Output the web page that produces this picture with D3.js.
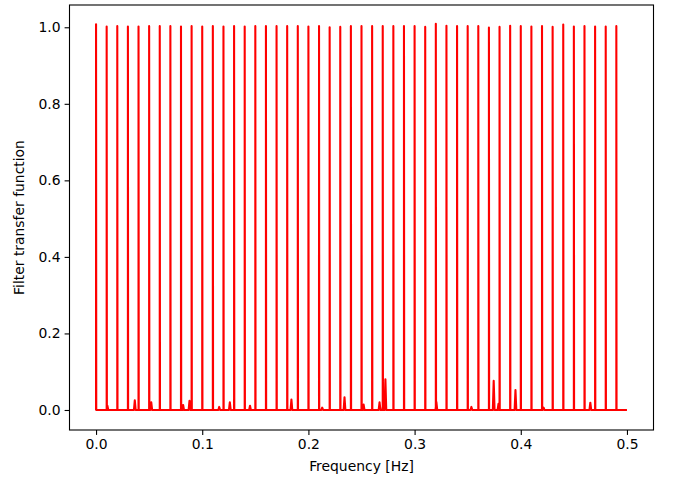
<!DOCTYPE html>
<html>
<head>
<meta charset="utf-8">
<script src="https://cdn.jsdelivr.net/npm/d3@7"></script>
<style>
  body { margin: 0; background: #fff; }
  text { font-family: "DejaVu Sans", sans-serif; fill: #000; }
</style>
</head>
<body>
<svg id="chart" width="673" height="479"></svg>
<script>
// comb filter peaks, one every 0.01 Hz
const spikeFreqs = [
  0.00, 0.01, 0.02, 0.03, 0.04, 0.05, 0.06, 0.07, 0.08, 0.09,
  0.10, 0.11, 0.12, 0.13, 0.14, 0.15, 0.16, 0.17, 0.18, 0.19,
  0.20, 0.21, 0.22, 0.23, 0.24, 0.25, 0.26, 0.27, 0.28, 0.29,
  0.30, 0.31, 0.32, 0.33, 0.34, 0.35, 0.36, 0.37, 0.38, 0.39,
  0.40, 0.41, 0.42, 0.43, 0.44, 0.45, 0.46, 0.47, 0.48, 0.49
];
const spikeHeights = [
  1.008, 1.002, 1.003, 1.002, 1.002, 1.003, 1.003, 1.003, 1.002, 1.003,
  1.002, 1.003, 1.002, 1.003, 1.002, 1.003, 1.003, 1.003, 1.003, 1.003,
  1.002, 1.003, 1.000, 1.001, 1.003, 1.003, 1.003, 1.003, 1.003, 1.003,
  1.003, 1.001, 1.009, 1.004, 1.003, 1.003, 1.003, 0.999, 1.001, 1.004,
  1.003, 1.002, 1.003, 1.001, 1.007, 1.002, 1.003, 1.002, 1.002, 1.003
];
// small leakage bumps along the baseline
const bumpFreqs = [
  0.0107, 0.0365, 0.052, 0.082, 0.088, 0.116, 0.126, 0.145, 0.184, 0.213,
  0.234, 0.252, 0.267, 0.2705, 0.2725, 0.3205, 0.3535, 0.3745, 0.379, 0.395,
  0.4215, 0.4655
];
const bumpHeights = [
  0.011, 0.025, 0.02, 0.013, 0.024, 0.008, 0.02, 0.011, 0.027, 0.006,
  0.033, 0.014, 0.02, 0.022, 0.08, 0.021, 0.008, 0.076, 0.016, 0.052,
  0.006, 0.019
];
const xTicks = [0.0, 0.1, 0.2, 0.3, 0.4, 0.5];
const yTicks = [0.0, 0.2, 0.4, 0.6, 0.8, 1.0];
const fMax = 0.5;

const AX = { LEFT: 69.5, RIGHT: 653.5, TOP: 5, BOTTOM: 430 };
const svg = d3.select("#chart");

const x = d3.scaleLinear().domain([-0.025, 0.525]).range([AX.LEFT, AX.RIGHT]);
const y = d3.scaleLinear().domain([-0.0523, 1.0582]).range([AX.BOTTOM, AX.TOP]);

// build the response curve from the peaks and bumps
const events = [];
spikeFreqs.forEach((f, i) => events.push({ f, h: spikeHeights[i], kind: "spike" }));
bumpFreqs.forEach((f, i) => events.push({ f, h: bumpHeights[i], kind: "bump" }));
events.sort((a, b) => a.f - b.f);

const pts = [];
events.forEach((e) => {
  if (e.kind === "spike") {
    pts.push([e.f, 0], [e.f, e.h], [e.f + 0.0002, 0]);
  } else {
    pts.push([e.f - 0.0008, 0], [e.f, e.h], [e.f + 0.0008, 0]);
  }
});
pts.push([fMax, 0]);

const line = d3.line().x((d) => x(d[0])).y((d) => y(d[1]));

svg.append("defs").append("clipPath").attr("id", "clip")
  .append("rect")
  .attr("x", AX.LEFT).attr("y", AX.TOP)
  .attr("width", AX.RIGHT - AX.LEFT).attr("height", AX.BOTTOM - AX.TOP);

svg.append("path")
  .datum(pts)
  .attr("clip-path", "url(#clip)")
  .attr("fill", "none")
  .attr("stroke", "#ff0000")
  .attr("stroke-width", 2.1)
  .attr("stroke-linejoin", "round")
  .attr("d", line);

// axes, matplotlib look
const xAxis = svg.append("g")
  .attr("transform", `translate(0,${AX.BOTTOM})`)
  .call(d3.axisBottom(x).tickValues(xTicks).tickFormat(d3.format(".1f")).tickSize(4.9).tickPadding(4));
const yAxis = svg.append("g")
  .attr("transform", `translate(${AX.LEFT},0)`)
  .call(d3.axisLeft(y).tickValues(yTicks).tickFormat(d3.format(".1f")).tickSize(4.9).tickPadding(4));

[xAxis, yAxis].forEach((g) => {
  g.select(".domain").remove();
  g.selectAll("line").attr("stroke", "#000").attr("stroke-width", 1.1);
  g.selectAll("text").style("font-size", "13.9px").attr("fill", "#000");
});

svg.append("rect")
  .attr("x", AX.LEFT).attr("y", AX.TOP)
  .attr("width", AX.RIGHT - AX.LEFT).attr("height", AX.BOTTOM - AX.TOP)
  .attr("fill", "none")
  .attr("stroke", "#000")
  .attr("stroke-width", 1.1);

svg.append("text")
  .attr("x", (AX.LEFT + AX.RIGHT) / 2)
  .attr("y", 471)
  .attr("text-anchor", "middle")
  .style("font-size", "13.9px")
  .text("Frequency [Hz]");

svg.append("text")
  .attr("transform", `translate(24,${(AX.TOP + AX.BOTTOM) / 2}) rotate(-90)`)
  .attr("text-anchor", "middle")
  .style("font-size", "13.9px")
  .text("Filter transfer function");
</script>
</body>
</html>
